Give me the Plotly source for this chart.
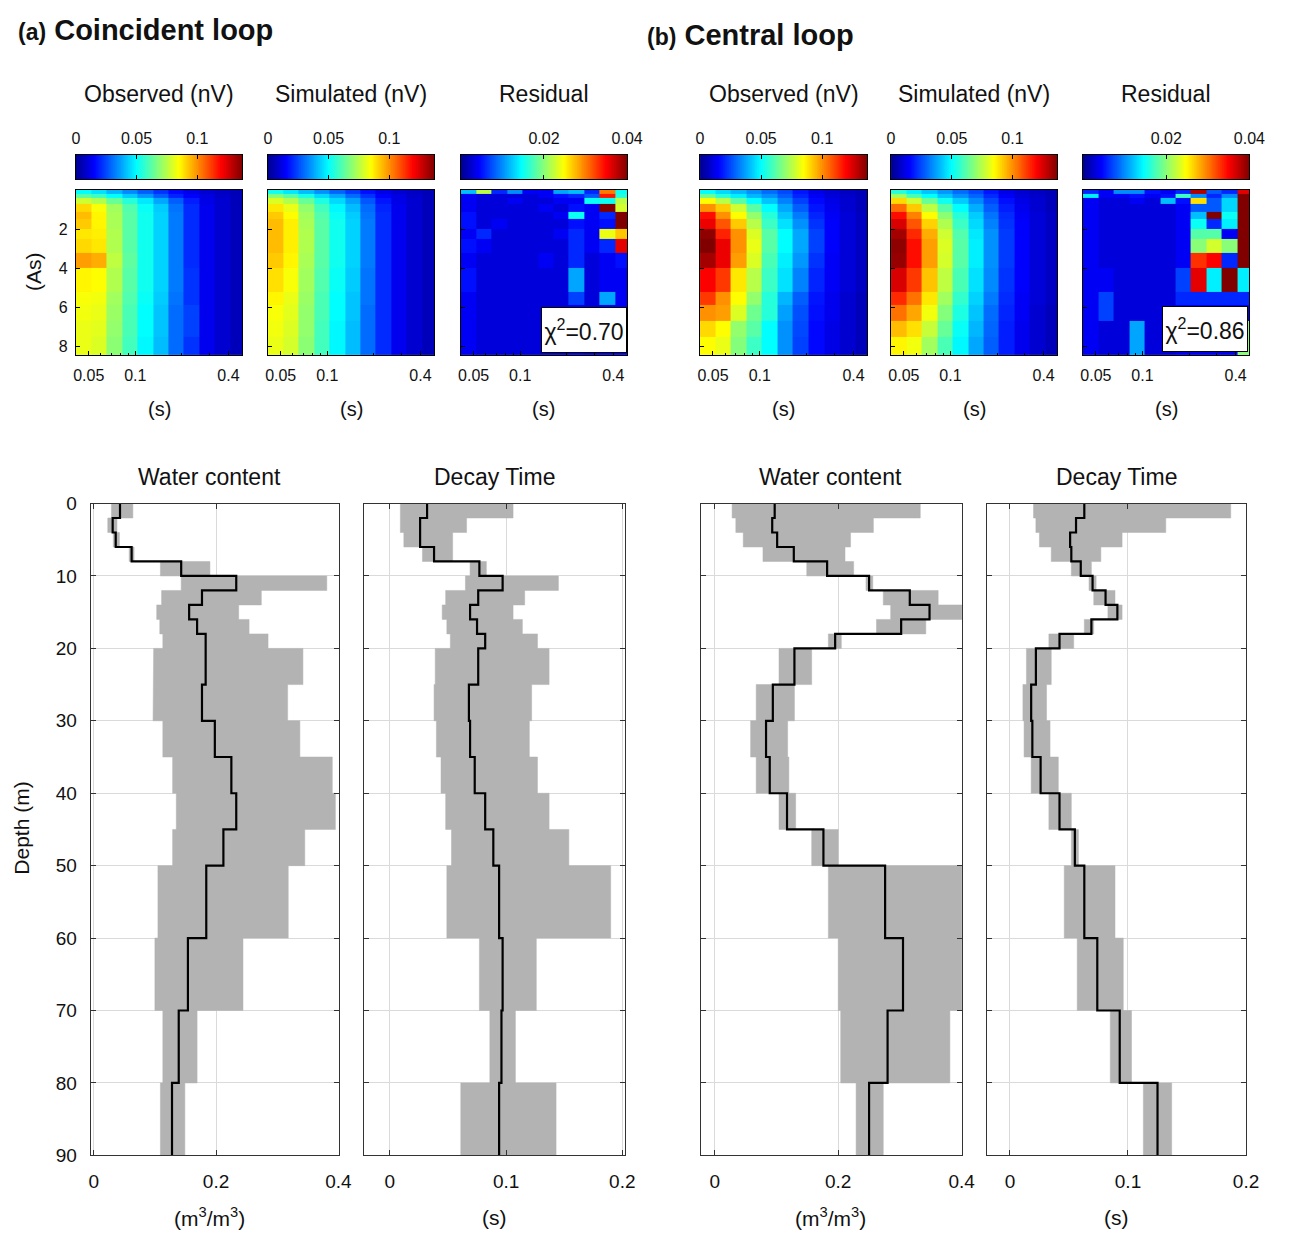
import numpy as np
import plotly.graph_objects as go

W, H = 1290, 1245
FONT = "Liberation Sans, Arial, Helvetica, sans-serif"

# ---------------- data: sounding curves (pulse moment x time gate) ----------------
gate_edges = [0.041, 0.052, 0.065, 0.082, 0.103, 0.130, 0.163, 0.206, 0.259, 0.326, 0.410, 0.49]
q_edges = [0, 0.2, 0.4, 0.7, 1.1, 1.5, 2.0, 2.5, 3.2, 4.0, 5.2, 5.9, 6.7, 7.5, 8.45]

obs_a = [
    [0.050, 0.046, 0.040, 0.034, 0.028, 0.022, 0.016, 0.012, 0.009, 0.007, 0.005],
    [0.062, 0.058, 0.050, 0.043, 0.036, 0.028, 0.020, 0.015, 0.011, 0.008, 0.006],
    [0.078, 0.074, 0.064, 0.055, 0.047, 0.038, 0.028, 0.019, 0.012, 0.009, 0.006],
    [0.090, 0.084, 0.072, 0.061, 0.051, 0.043, 0.031, 0.021, 0.013, 0.009, 0.006],
    [0.094, 0.086, 0.073, 0.062, 0.052, 0.044, 0.032, 0.021, 0.013, 0.009, 0.006],
    [0.092, 0.086, 0.073, 0.062, 0.052, 0.044, 0.032, 0.021, 0.013, 0.009, 0.006],
    [0.088, 0.087, 0.074, 0.062, 0.052, 0.044, 0.032, 0.021, 0.013, 0.009, 0.006],
    [0.090, 0.088, 0.074, 0.062, 0.052, 0.044, 0.032, 0.021, 0.013, 0.009, 0.006],
    [0.098, 0.096, 0.076, 0.063, 0.052, 0.044, 0.032, 0.021, 0.013, 0.009, 0.006],
    [0.086, 0.085, 0.074, 0.062, 0.052, 0.044, 0.032, 0.022, 0.013, 0.009, 0.006],
    [0.084, 0.083, 0.072, 0.061, 0.051, 0.043, 0.031, 0.022, 0.013, 0.009, 0.006],
    [0.083, 0.082, 0.071, 0.060, 0.050, 0.042, 0.030, 0.024, 0.013, 0.009, 0.006],
    [0.082, 0.081, 0.070, 0.060, 0.050, 0.042, 0.030, 0.024, 0.013, 0.009, 0.006],
    [0.082, 0.080, 0.069, 0.059, 0.049, 0.041, 0.030, 0.022, 0.013, 0.009, 0.006],
]
sim_a = [
    [0.052, 0.047, 0.041, 0.035, 0.029, 0.023, 0.017, 0.012, 0.009, 0.007, 0.005],
    [0.068, 0.062, 0.053, 0.045, 0.038, 0.030, 0.022, 0.015, 0.011, 0.008, 0.006],
    [0.080, 0.074, 0.064, 0.054, 0.045, 0.037, 0.027, 0.018, 0.012, 0.009, 0.006],
    [0.088, 0.082, 0.070, 0.059, 0.049, 0.041, 0.030, 0.020, 0.013, 0.009, 0.006],
    [0.092, 0.085, 0.072, 0.061, 0.051, 0.043, 0.031, 0.021, 0.013, 0.009, 0.006],
    [0.094, 0.087, 0.073, 0.062, 0.052, 0.044, 0.032, 0.021, 0.013, 0.009, 0.006],
    [0.094, 0.087, 0.074, 0.062, 0.052, 0.044, 0.032, 0.021, 0.013, 0.009, 0.006],
    [0.094, 0.087, 0.074, 0.062, 0.052, 0.044, 0.032, 0.021, 0.013, 0.009, 0.006],
    [0.092, 0.086, 0.073, 0.062, 0.052, 0.044, 0.032, 0.021, 0.013, 0.009, 0.006],
    [0.089, 0.084, 0.072, 0.061, 0.051, 0.043, 0.031, 0.021, 0.013, 0.009, 0.006],
    [0.086, 0.082, 0.071, 0.060, 0.050, 0.042, 0.031, 0.021, 0.013, 0.009, 0.006],
    [0.084, 0.081, 0.070, 0.060, 0.050, 0.042, 0.030, 0.021, 0.013, 0.009, 0.006],
    [0.083, 0.080, 0.070, 0.059, 0.049, 0.041, 0.030, 0.021, 0.013, 0.009, 0.006],
    [0.082, 0.079, 0.069, 0.059, 0.049, 0.041, 0.030, 0.021, 0.013, 0.009, 0.006],
]
res_a = [
    [0.012, 0.022, 0.006, 0.010, 0.004, 0.004, 0.011, 0.012, 0.006, 0.030, 0.015],
    [0.004, 0.003, 0.003, 0.003, 0.003, 0.004, 0.005, 0.006, 0.008, 0.034, 0.016],
    [0.004, 0.003, 0.003, 0.004, 0.003, 0.003, 0.004, 0.004, 0.015, 0.015, 0.022],
    [0.004, 0.003, 0.003, 0.003, 0.003, 0.004, 0.003, 0.005, 0.004, 0.040, 0.023],
    [0.005, 0.003, 0.003, 0.003, 0.003, 0.003, 0.004, 0.015, 0.004, 0.006, 0.040],
    [0.005, 0.003, 0.004, 0.003, 0.003, 0.003, 0.003, 0.005, 0.004, 0.005, 0.040],
    [0.004, 0.006, 0.003, 0.003, 0.003, 0.003, 0.004, 0.006, 0.004, 0.024, 0.027],
    [0.005, 0.004, 0.003, 0.003, 0.003, 0.003, 0.003, 0.006, 0.004, 0.006, 0.036],
    [0.004, 0.003, 0.003, 0.003, 0.003, 0.004, 0.003, 0.006, 0.003, 0.004, 0.005],
    [0.005, 0.003, 0.003, 0.003, 0.003, 0.003, 0.003, 0.011, 0.003, 0.004, 0.004],
    [0.004, 0.003, 0.003, 0.003, 0.003, 0.003, 0.003, 0.007, 0.003, 0.011, 0.004],
    [0.004, 0.003, 0.003, 0.003, 0.003, 0.003, 0.003, 0.004, 0.003, 0.004, 0.004],
    [0.004, 0.003, 0.003, 0.003, 0.003, 0.003, 0.003, 0.004, 0.003, 0.004, 0.004],
    [0.004, 0.003, 0.003, 0.003, 0.003, 0.003, 0.003, 0.004, 0.003, 0.004, 0.004],
]
obs_b = [
    [0.050, 0.045, 0.040, 0.035, 0.030, 0.025, 0.018, 0.012, 0.009, 0.007, 0.005],
    [0.065, 0.055, 0.048, 0.040, 0.035, 0.028, 0.020, 0.014, 0.010, 0.008, 0.006],
    [0.085, 0.075, 0.062, 0.050, 0.042, 0.033, 0.024, 0.016, 0.012, 0.009, 0.006],
    [0.100, 0.092, 0.078, 0.062, 0.050, 0.038, 0.028, 0.018, 0.013, 0.009, 0.006],
    [0.118, 0.100, 0.085, 0.070, 0.055, 0.042, 0.032, 0.020, 0.014, 0.010, 0.007],
    [0.122, 0.108, 0.092, 0.075, 0.058, 0.046, 0.035, 0.022, 0.015, 0.010, 0.007],
    [0.135, 0.115, 0.100, 0.080, 0.062, 0.050, 0.038, 0.024, 0.015, 0.010, 0.007],
    [0.137, 0.122, 0.100, 0.082, 0.062, 0.050, 0.038, 0.024, 0.015, 0.010, 0.007],
    [0.132, 0.122, 0.098, 0.080, 0.060, 0.048, 0.036, 0.022, 0.014, 0.010, 0.007],
    [0.120, 0.112, 0.088, 0.075, 0.058, 0.046, 0.033, 0.020, 0.014, 0.010, 0.007],
    [0.112, 0.100, 0.085, 0.070, 0.055, 0.040, 0.028, 0.018, 0.013, 0.009, 0.006],
    [0.100, 0.098, 0.080, 0.065, 0.055, 0.037, 0.026, 0.017, 0.013, 0.009, 0.006],
    [0.090, 0.085, 0.070, 0.062, 0.050, 0.035, 0.025, 0.016, 0.012, 0.009, 0.006],
    [0.085, 0.082, 0.068, 0.058, 0.050, 0.035, 0.024, 0.016, 0.012, 0.009, 0.006],
]
sim_b = [
    [0.055, 0.048, 0.042, 0.036, 0.030, 0.025, 0.018, 0.012, 0.009, 0.007, 0.005],
    [0.072, 0.060, 0.050, 0.042, 0.035, 0.029, 0.021, 0.014, 0.010, 0.008, 0.006],
    [0.090, 0.078, 0.064, 0.052, 0.043, 0.034, 0.025, 0.017, 0.012, 0.009, 0.006],
    [0.105, 0.092, 0.076, 0.062, 0.050, 0.039, 0.028, 0.019, 0.013, 0.009, 0.006],
    [0.118, 0.102, 0.085, 0.069, 0.055, 0.043, 0.031, 0.021, 0.014, 0.010, 0.007],
    [0.125, 0.108, 0.091, 0.074, 0.058, 0.045, 0.033, 0.022, 0.015, 0.010, 0.007],
    [0.132, 0.114, 0.096, 0.078, 0.061, 0.047, 0.035, 0.023, 0.015, 0.010, 0.007],
    [0.135, 0.118, 0.098, 0.080, 0.062, 0.048, 0.035, 0.023, 0.015, 0.010, 0.007],
    [0.134, 0.118, 0.098, 0.079, 0.062, 0.048, 0.035, 0.023, 0.015, 0.010, 0.007],
    [0.125, 0.112, 0.093, 0.076, 0.060, 0.046, 0.034, 0.022, 0.015, 0.010, 0.007],
    [0.114, 0.104, 0.088, 0.072, 0.057, 0.044, 0.032, 0.021, 0.014, 0.010, 0.007],
    [0.104, 0.097, 0.083, 0.068, 0.054, 0.042, 0.030, 0.020, 0.014, 0.009, 0.006],
    [0.094, 0.089, 0.077, 0.064, 0.051, 0.040, 0.029, 0.019, 0.013, 0.009, 0.006],
    [0.086, 0.083, 0.072, 0.060, 0.049, 0.038, 0.028, 0.019, 0.013, 0.009, 0.006],
]
res_b = [
    [0.006, 0.004, 0.010, 0.010, 0.005, 0.004, 0.006, 0.038, 0.008, 0.006, 0.036],
    [0.014, 0.004, 0.004, 0.005, 0.004, 0.005, 0.017, 0.010, 0.006, 0.010, 0.040],
    [0.004, 0.003, 0.003, 0.004, 0.003, 0.012, 0.005, 0.026, 0.008, 0.013, 0.040],
    [0.004, 0.003, 0.003, 0.003, 0.003, 0.003, 0.004, 0.008, 0.008, 0.013, 0.040],
    [0.004, 0.003, 0.003, 0.003, 0.003, 0.003, 0.004, 0.012, 0.040, 0.015, 0.040],
    [0.004, 0.003, 0.003, 0.003, 0.003, 0.003, 0.004, 0.015, 0.006, 0.014, 0.040],
    [0.004, 0.003, 0.003, 0.003, 0.003, 0.003, 0.004, 0.018, 0.018, 0.004, 0.040],
    [0.004, 0.003, 0.003, 0.003, 0.003, 0.003, 0.004, 0.020, 0.023, 0.020, 0.040],
    [0.004, 0.003, 0.003, 0.003, 0.003, 0.003, 0.004, 0.033, 0.035, 0.006, 0.040],
    [0.004, 0.004, 0.003, 0.003, 0.003, 0.003, 0.007, 0.036, 0.014, 0.040, 0.014],
    [0.004, 0.007, 0.003, 0.003, 0.003, 0.003, 0.006, 0.006, 0.006, 0.006, 0.006],
    [0.004, 0.007, 0.003, 0.003, 0.003, 0.003, 0.004, 0.004, 0.004, 0.004, 0.004],
    [0.004, 0.003, 0.003, 0.011, 0.003, 0.003, 0.004, 0.004, 0.004, 0.004, 0.020],
    [0.004, 0.003, 0.003, 0.011, 0.003, 0.003, 0.004, 0.004, 0.004, 0.004, 0.020],
]

# ---------------- data: inverted depth profiles ----------------
layer_top = [0, 2, 4, 6, 8, 10, 12, 14, 16, 18, 20, 25, 30, 35, 40, 45, 50, 60, 70, 80]
layer_bot = [2, 4, 6, 8, 10, 12, 14, 16, 18, 20, 25, 30, 35, 40, 45, 50, 60, 70, 80, 90]

wc_a_best = [0.043, 0.031, 0.036, 0.062, 0.143, 0.233, 0.177, 0.156, 0.169, 0.183, 0.183, 0.177, 0.198, 0.225, 0.233, 0.212, 0.184, 0.154, 0.139, 0.128]
wc_a_lo = [0.029, 0.023, 0.032, 0.058, 0.109, 0.143, 0.111, 0.103, 0.108, 0.113, 0.098, 0.097, 0.113, 0.129, 0.135, 0.129, 0.105, 0.100, 0.113, 0.109]
wc_a_hi = [0.064, 0.038, 0.042, 0.066, 0.190, 0.381, 0.274, 0.237, 0.254, 0.285, 0.342, 0.317, 0.337, 0.390, 0.395, 0.345, 0.318, 0.244, 0.169, 0.149]

dt_a_best = [0.032, 0.026, 0.026, 0.038, 0.077, 0.097, 0.076, 0.069, 0.075, 0.082, 0.076, 0.068, 0.069, 0.073, 0.082, 0.089, 0.094, 0.097, 0.096, 0.094]
dt_a_lo = [0.009, 0.009, 0.012, 0.028, 0.069, 0.065, 0.048, 0.045, 0.049, 0.052, 0.039, 0.038, 0.040, 0.044, 0.048, 0.053, 0.049, 0.077, 0.086, 0.061]
dt_a_hi = [0.106, 0.066, 0.054, 0.054, 0.083, 0.145, 0.116, 0.106, 0.114, 0.127, 0.137, 0.122, 0.120, 0.127, 0.137, 0.154, 0.190, 0.126, 0.108, 0.143]

wc_b_best = [0.097, 0.093, 0.101, 0.128, 0.182, 0.250, 0.316, 0.348, 0.302, 0.195, 0.129, 0.094, 0.083, 0.089, 0.117, 0.176, 0.276, 0.305, 0.280, 0.250]
wc_b_lo = [0.028, 0.034, 0.046, 0.078, 0.149, 0.245, 0.273, 0.285, 0.262, 0.184, 0.104, 0.067, 0.058, 0.067, 0.104, 0.157, 0.184, 0.200, 0.204, 0.229]
wc_b_hi = [0.333, 0.257, 0.220, 0.211, 0.225, 0.256, 0.362, 0.402, 0.342, 0.205, 0.157, 0.129, 0.118, 0.120, 0.131, 0.200, 0.450, 0.450, 0.381, 0.273]

dt_b_best = [0.063, 0.056, 0.051, 0.052, 0.060, 0.070, 0.081, 0.091, 0.069, 0.042, 0.022, 0.018, 0.019, 0.026, 0.042, 0.055, 0.063, 0.074, 0.093, 0.125]
dt_b_lo = [0.020, 0.022, 0.025, 0.035, 0.052, 0.067, 0.071, 0.083, 0.063, 0.033, 0.014, 0.011, 0.012, 0.018, 0.033, 0.052, 0.046, 0.057, 0.085, 0.113]
dt_b_hi = [0.187, 0.132, 0.095, 0.077, 0.069, 0.073, 0.089, 0.095, 0.071, 0.054, 0.035, 0.031, 0.034, 0.041, 0.052, 0.058, 0.089, 0.096, 0.103, 0.137]

JET = [[0.0, 'rgb(0,0,143)'], [0.111, 'rgb(0,0,255)'], [0.365, 'rgb(0,255,255)'],
       [0.619, 'rgb(255,255,0)'], [0.873, 'rgb(255,0,0)'], [1.0, 'rgb(128,0,0)']]

fig = go.Figure()
axes_layout = {}
counter = [0]


def new_axes(xpx, ypx, xa, ya):
    counter[0] += 1
    i = counter[0]
    sx = '' if i == 1 else str(i)
    xa = dict(xa)
    ya = dict(ya)
    xa['domain'] = [xpx[0] / W, xpx[1] / W]
    ya['domain'] = [1 - ypx[1] / H, 1 - ypx[0] / H]
    xa['anchor'] = 'y' + sx
    ya['anchor'] = 'x' + sx
    axes_layout['xaxis' + sx] = xa
    axes_layout['yaxis' + sx] = ya
    return 'x' + sx, 'y' + sx


annotations = []


def text(x, y, s, size, **kw):
    d = dict(x=x / W, y=1 - y / H, xref='paper', yref='paper', text=s, showarrow=False,
             font=dict(family=FONT, size=size, color='#111'), xanchor='center', yanchor='middle')
    d.update(kw)
    annotations.append(d)


# ---------------- top: heatmaps ----------------
panels = [
    (obs_a, (73, 242), 0.137, [0, 0.05, 0.1], ['0', '0.05', '0.1'], 'Observed (nV)', True),
    (sim_a, (268, 437), 0.137, [0, 0.05, 0.1], ['0', '0.05', '0.1'], 'Simulated (nV)', False),
    (res_a, (464, 633), 0.04, [0.02, 0.04], ['0.02', '0.04'], 'Residual', False),
    (obs_b, (707, 877), 0.137, [0, 0.05, 0.1], ['0', '0.05', '0.1'], 'Observed (nV)', False),
    (sim_b, (901, 1070), 0.137, [0, 0.05, 0.1], ['0', '0.05', '0.1'], 'Simulated (nV)', False),
    (res_b, (1096, 1265), 0.04, [0.02, 0.04], ['0.02', '0.04'], 'Residual', False),
]

for z, xr, zmax, cbt, cbtt, title, first in panels:
    # colorbar strip
    cb_vals = np.linspace(0, zmax, 256)
    xa = dict(range=[0, zmax], side='top', tickvals=cbt, ticktext=cbtt, ticks='inside', ticklen=4,
              tickcolor='black', showline=True, linecolor='black', linewidth=1, mirror='ticks',
              showgrid=False, zeroline=False, tickfont=dict(family=FONT, size=16, color='#111'),
              ticklabelstandoff=3)
    ya = dict(range=[-0.5, 0.5], showticklabels=False, ticks='', showgrid=False, zeroline=False,
              showline=True, linecolor='black', mirror=True)
    cx, cy = new_axes(xr, (147, 172), xa, ya)
    fig.add_trace(go.Heatmap(z=[cb_vals], x=cb_vals, y=[0], colorscale=JET, zmin=0, zmax=zmax,
                             showscale=False, xaxis=cx, yaxis=cy, hoverinfo='skip'))
    # heatmap
    xa = dict(type='log', range=[np.log10(0.0413), np.log10(0.491)], tickvals=[0.05, 0.1, 0.4],
              ticktext=['0.05', '0.1', '0.4'], ticks='inside', ticklen=4, tickcolor='black',
              minor=dict(tickmode='array', tickvals=[0.06, 0.07, 0.08, 0.09, 0.2, 0.3], ticks='inside',
                         ticklen=2, tickcolor='black'),
              showline=True, linecolor='black', mirror=True, showgrid=False, zeroline=False,
              tickfont=dict(family=FONT, size=16, color='#111'), ticklabelstandoff=6)
    ya = dict(range=[8.45, 0], tickvals=[2, 4, 6, 8], ticks='inside', ticklen=4, tickcolor='black',
              showticklabels=first, showline=True, linecolor='black', mirror=True, showgrid=False,
              zeroline=False, tickfont=dict(family=FONT, size=16, color='#111'), ticklabelstandoff=4)
    hx, hy = new_axes(xr, (183, 351), xa, ya)
    fig.add_trace(go.Heatmap(z=z, x=gate_edges, y=q_edges, colorscale=JET, zmin=0, zmax=zmax,
                             showscale=False, xaxis=hx, yaxis=hy))
    cxp = (xr[0] + xr[1]) / 2
    text(cxp, 85, title, 23)
    text(cxp, 406, '(s)', 20)

text(30, 266, '(As)', 21, textangle=-90)

# chi-square boxes
for cxp, cyp, s in [(589, 325, 'χ<sup>2</sup>=0.70'), (1220, 324, 'χ<sup>2</sup>=0.86')]:
    annotations.append(dict(x=cxp / W, y=1 - cyp / H, xref='paper', yref='paper', text=s,
                            showarrow=False, font=dict(family=FONT, size=23, color='#111'),
                            bgcolor='white', bordercolor='black', borderwidth=1, borderpad=0,
                            width=84, height=44, xanchor='center', yanchor='middle'))

# ---------------- bottom: depth profiles ----------------
def band(lo, hi):
    xs, ys = [], []
    for t, b, v in zip(layer_top, layer_bot, lo):
        xs += [v, v]
        ys += [t, b]
    for t, b, v in reversed(list(zip(layer_top, layer_bot, hi))):
        xs += [v, v]
        ys += [b, t]
    xs.append(xs[0])
    ys.append(ys[0])
    return xs, ys


def steps(vals):
    xs, ys = [], []
    for t, b, v in zip(layer_top, layer_bot, vals):
        xs += [v, v]
        ys += [t, b]
    return xs, ys


profiles = [
    (wc_a_best, wc_a_lo, wc_a_hi, (88, 340), [-0.005, 0.4005], [0, 0.2, 0.4], ['0', '0.2', '0.4'],
     'Water content', 209, '(m<sup>3</sup>/m<sup>3</sup>)', True),
    (dt_a_best, dt_a_lo, dt_a_hi, (366, 631), [-0.022, 0.2025], [0, 0.1, 0.2], ['0', '0.1', '0.2'],
     'Decay Time', 498, '(s)', False),
    (wc_b_best, wc_b_lo, wc_b_hi, (708, 973), [-0.0224, 0.4005], [0, 0.2, 0.4], ['0', '0.2', '0.4'],
     'Water content', 840, '(m<sup>3</sup>/m<sup>3</sup>)', False),
    (dt_b_best, dt_b_lo, dt_b_hi, (998, 1262), [-0.0198, 0.2003], [0, 0.1, 0.2], ['0', '0.1', '0.2'],
     'Decay Time', 1130, '(s)', False),
]

for best, lo, hi, xr, rng, tv, tt, title, tx, xlabel, first in profiles:
    xa = dict(range=rng, tickvals=tv, ticktext=tt, ticks='inside', ticklen=5, tickcolor='#333',
              showline=True, linecolor='#333', linewidth=1, mirror='ticks', showgrid=True,
              gridcolor='#dadada', gridwidth=1, zeroline=False,
              tickfont=dict(family=FONT, size=19, color='#111'), ticklabelstandoff=9)
    ya = dict(range=[90, 0], tickvals=list(range(0, 91, 10)), ticks='inside', ticklen=5, tickcolor='#333',
              showline=True, linecolor='#333', linewidth=1, mirror='ticks', showgrid=True,
              gridcolor='#dadada', gridwidth=1, zeroline=False, showticklabels=first,
              tickfont=dict(family=FONT, size=19, color='#111'), ticklabelstandoff=9)
    px_, py_ = new_axes(xr, (502, 1165), xa, ya)
    bx, by = band(lo, hi)
    fig.add_trace(go.Scatter(x=bx, y=by, mode='lines', fill='toself', fillcolor='#b3b3b3',
                             line=dict(color='#b3b3b3', width=0.5), xaxis=px_, yaxis=py_, hoverinfo='skip'))
    sx, sy = steps(best)
    fig.add_trace(go.Scatter(x=sx, y=sy, mode='lines', line=dict(color='black', width=2.2),
                             xaxis=px_, yaxis=py_))
    text(tx, 475, title, 23)
    text(tx, 1228, xlabel, 21)

text(18, 832, 'Depth (m)', 21, textangle=-90)

# panel headings
text(12, 20, '<b><span style="font-size:23px">(a)</span> Coincident loop</b>', 29, xanchor='left')
text(651, 25, '<b><span style="font-size:23px">(b)</span> Central loop</b>', 29, xanchor='left')

fig.update_layout(width=W, height=H, margin=dict(l=0, r=0, t=0, b=0), paper_bgcolor='white',
                  plot_bgcolor='white', showlegend=False, annotations=annotations,
                  font=dict(family=FONT, color='#111'), **axes_layout)

fig.write_html("out.html", config={'displayModeBar': False},
               post_script="document.body.style.margin='0px';document.body.style.overflow='hidden';")
